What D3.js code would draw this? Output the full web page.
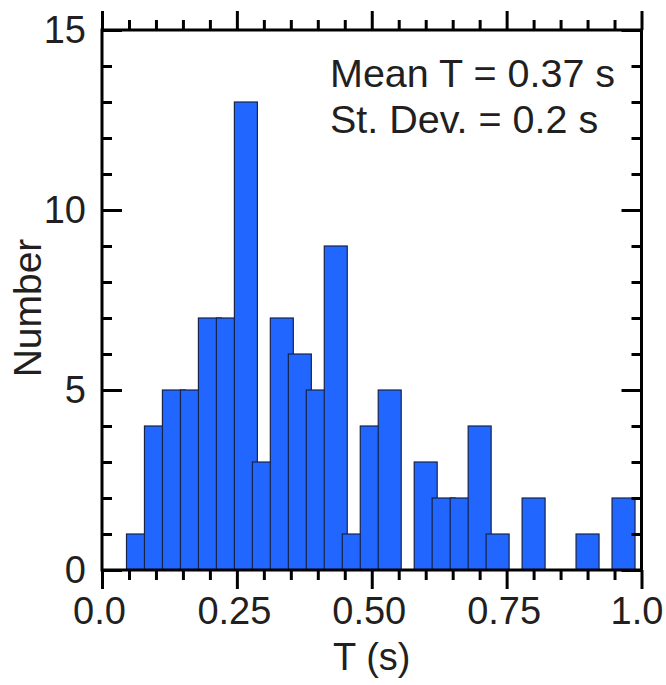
<!DOCTYPE html>
<html>
<head>
<meta charset="utf-8">
<script src="https://cdn.jsdelivr.net/npm/d3@7"></script>
<style>
  html, body { margin: 0; padding: 0; background: #fff; }
  svg { display: block; }
</style>
</head>
<body>
<div id="chart"></div>
<script>
(function () {
  'use strict';

  // ── Data (bin centres in s, counts per bin) ──
  var binCenters = [0.0667, 0.1, 0.1333, 0.1667, 0.2, 0.2333, 0.2667, 0.3, 0.3333, 0.3667,
    0.4, 0.4333, 0.4667, 0.5, 0.5333, 0.5667, 0.6, 0.6333, 0.6667, 0.7,
    0.7333, 0.7667, 0.8, 0.8333, 0.8667, 0.9, 0.9333, 0.9667];
  var counts = [1, 4, 5, 5, 7, 7, 13, 3, 7, 6,
    5, 9, 1, 4, 5, 0, 3, 2, 2, 4,
    1, 0, 2, 0, 0, 1, 0, 2];

  var xMajorTicks = [0, 0.25, 0.5, 0.75, 1.0];
  var xTickLabels = ['0.0', '0.25', '0.50', '0.75', '1.0'];
  var xMinorTicks = [0.05, 0.1, 0.15, 0.2, 0.3, 0.35, 0.4, 0.45, 0.55, 0.6, 0.65, 0.7, 0.8, 0.85, 0.9, 0.95];
  var yMajorTicks = [0, 5, 10, 15];
  var yMinorTicks = [1, 2, 3, 4, 6, 7, 8, 9, 11, 12, 13, 14];
  var annotations = ['Mean T = 0.37 s', 'St. Dev. = 0.2 s'];

  // ── Constants ──
  var WIDTH = 666;
  var HEIGHT = 685;
  var PLOT = { left: 102, right: 641.5, top: 30, bottom: 570 };
  var BAR_WIDTH = 0.0426;        // in T units, bars overlap the next bin a bit
  var BAR_FILL = '#2167ff';
  var BAR_STROKE = '#16244a';
  var AXIS_W = 3;
  var FONT = '"Liberation Sans", Arial, Helvetica, sans-serif';
  var TEXT_COLOR = '#231f20';

  var svg = d3.select('#chart').append('svg')
    .attr('width', WIDTH)
    .attr('height', HEIGHT);

  var x = d3.scaleLinear().domain([0, 1]).range([PLOT.left, PLOT.right]);
  var y = d3.scaleLinear().domain([0, 15]).range([PLOT.bottom, PLOT.top]);

  // ── Bars (drawn in order so each one covers the previous overhang) ──
  var bars = binCenters.map(function (c, i) { return { t: c, n: counts[i] }; })
    .filter(function (d) { return d.n > 0; });

  svg.append('g').selectAll('rect')
    .data(bars)
    .join('rect')
    .attr('x', function (d) { return x(d.t - BAR_WIDTH / 2); })
    .attr('y', function (d) { return y(d.n); })
    .attr('width', function (d) { return x(d.t + BAR_WIDTH / 2) - x(d.t - BAR_WIDTH / 2); })
    .attr('height', function (d) { return y(0) - y(d.n); })
    .attr('fill', BAR_FILL)
    .attr('stroke', BAR_STROKE)
    .attr('stroke-width', 1.2);

  // ── Axes ──
  function styleAxis(g) {
    g.select('.domain').remove();
    g.selectAll('.tick line').attr('stroke', '#000').attr('stroke-width', AXIS_W);
    g.selectAll('.tick text')
      .attr('fill', TEXT_COLOR)
      .attr('font-family', FONT)
      .attr('font-size', '38px');
  }

  // bottom
  svg.append('g')
    .attr('transform', 'translate(0,' + PLOT.bottom + ')')
    .call(d3.axisBottom(x).tickValues(xMinorTicks).tickSize(10).tickFormat(''))
    .call(styleAxis);
  svg.append('g')
    .attr('transform', 'translate(0,' + PLOT.bottom + ')')
    .call(d3.axisBottom(x).tickValues(xMajorTicks).tickSize(19).tickPadding(8)
      .tickFormat(function (d, i) { return xTickLabels[i]; }))
    .call(styleAxis)
    .call(function (g) {
      g.selectAll('.tick text').attr('dx', function (d, i) { return i === xMajorTicks.length - 1 ? -5 : -3; });
    });

  // top
  svg.append('g')
    .attr('transform', 'translate(0,' + PLOT.top + ')')
    .call(d3.axisTop(x).tickValues(xMinorTicks).tickSize(10).tickFormat(''))
    .call(styleAxis);
  svg.append('g')
    .attr('transform', 'translate(0,' + PLOT.top + ')')
    .call(d3.axisTop(x).tickValues(xMajorTicks).tickSize(19).tickFormat(''))
    .call(styleAxis);

  // left (ticks inward)
  svg.append('g')
    .attr('transform', 'translate(' + PLOT.left + ',0)')
    .call(d3.axisLeft(y).tickValues(yMinorTicks).tickSize(-10).tickFormat(''))
    .call(styleAxis);
  svg.append('g')
    .attr('transform', 'translate(' + PLOT.left + ',0)')
    .call(d3.axisLeft(y).tickValues(yMajorTicks).tickSize(-20).tickPadding(16).tickFormat(d3.format('d')))
    .call(styleAxis);

  // right (ticks inward)
  svg.append('g')
    .attr('transform', 'translate(' + PLOT.right + ',0)')
    .call(d3.axisRight(y).tickValues(yMinorTicks).tickSize(-10).tickFormat(''))
    .call(styleAxis);
  svg.append('g')
    .attr('transform', 'translate(' + PLOT.right + ',0)')
    .call(d3.axisRight(y).tickValues(yMajorTicks).tickSize(-20).tickFormat(''))
    .call(styleAxis);

  // frame
  svg.append('rect')
    .attr('x', PLOT.left)
    .attr('y', PLOT.top)
    .attr('width', PLOT.right - PLOT.left)
    .attr('height', PLOT.bottom - PLOT.top)
    .attr('fill', 'none')
    .attr('stroke', '#000')
    .attr('stroke-width', AXIS_W);

  // ── Axis titles ──
  svg.append('text')
    .attr('x', (PLOT.left + PLOT.right) / 2)
    .attr('y', 670)
    .attr('text-anchor', 'middle')
    .attr('fill', TEXT_COLOR)
    .attr('font-family', FONT)
    .attr('font-size', '38px')
    .text('T (s)');

  svg.append('text')
    .attr('transform', 'translate(41,308) rotate(-90)')
    .attr('text-anchor', 'middle')
    .attr('fill', TEXT_COLOR)
    .attr('font-family', FONT)
    .attr('font-size', '39px')
    .text('Number');

  // ── Annotation ──
  svg.append('g').selectAll('text')
    .data(annotations)
    .join('text')
    .attr('x', 330)
    .attr('y', function (d, i) { return 87 + i * 46; })
    .attr('fill', TEXT_COLOR)
    .attr('font-family', FONT)
    .attr('font-size', '39.5px')
    .text(function (d) { return d; });
})();
</script>
</body>
</html>
